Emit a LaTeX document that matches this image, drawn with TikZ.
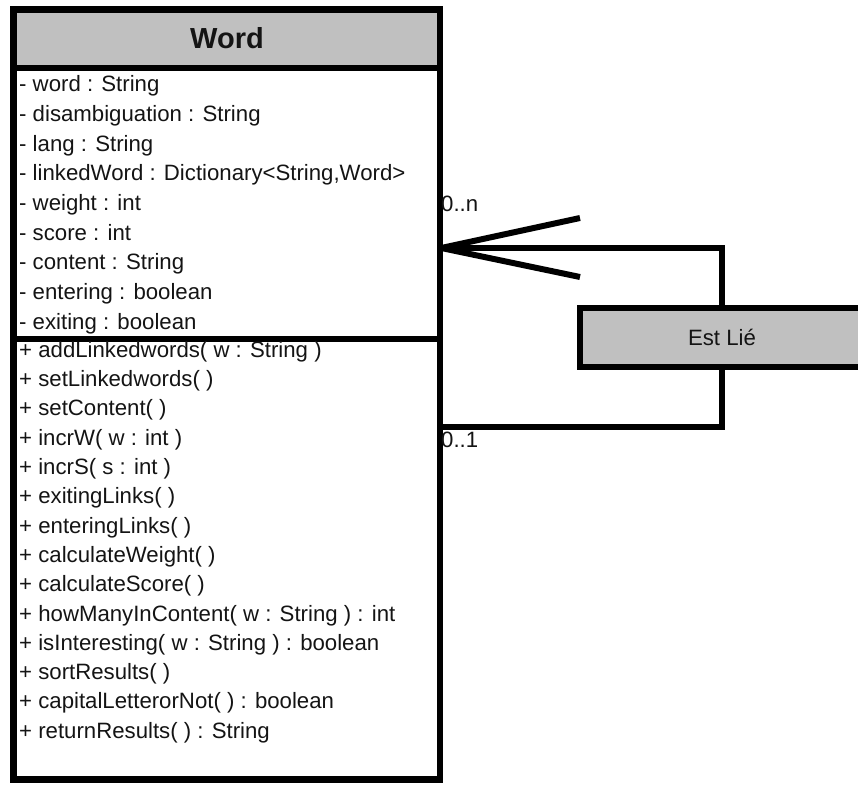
\documentclass[tikz,border=0pt]{standalone}
\usepackage{fontspec}
\setmainfont{Liberation Sans}
\newcommand\rowfont{\fontsize{22.2bp}{26bp}\selectfont}
\newcommand\titlefont{\fontsize{29bp}{34bp}\selectfont\bfseries}
\definecolor{hdrgray}{RGB}{192,192,192}
\definecolor{txt}{RGB}{20,20,20}
\tikzset{
  row/.style={anchor=base west, inner sep=0pt, font=\rowfont, text=txt},
  thick line/.style={line width=6.5bp, draw=black},
  classbox/.style={draw=black, line width=6.5bp, rectangle, inner sep=0pt,
    minimum width=426.5bp, minimum height=770bp},
  relbox/.style={draw=black, line width=6.5bp, fill=hdrgray, rectangle, inner sep=0pt,
    minimum width=284bp, minimum height=59bp, font=\rowfont, text=txt},
}
\begin{document}
\begin{tikzpicture}[x=1bp, y=-1bp]
\useasboundingbox (0,0) rectangle (858,785);
% header fill
\fill[hdrgray] (13.5,9.5) rectangle (440,68.5);
% class box
\node[classbox] (word) at (226.75,394.5) {};
\draw[thick line, line width=6bp] (13.5,68.5) -- (440,68.5);
\draw[thick line, line width=6bp] (13.5,338.5) -- (440,338.5);
\node[anchor=base, inner sep=0pt, font=\titlefont, text=txt] (title) at (227,48.5) {Word};
% attributes
\foreach \t [count=\i from 0] in {
  - word : String,
  - disambiguation : String,
  - lang : String,
  - linkedWord : Dictionary<String{,}Word>,
  - weight : int,
  - score : int,
  - content : String,
  - entering : boolean,
  - exiting : boolean}
  \node[row] (a\i) at (19,{91.6+29.7*\i}) {\t};
% methods
\foreach \t [count=\i from 0] in {
  + addLinkedwords( w : String ),
  + setLinkedwords( ),
  + setContent( ),
  + incrW( w : int ),
  + incrS( s : int ),
  + exitingLinks( ),
  + enteringLinks( ),
  + calculateWeight( ),
  + calculateScore( ),
  + howManyInContent( w : String ) : int,
  + isInteresting( w : String ) : boolean,
  + sortResults( ),
  + capitalLetterorNot( ) : boolean,
  + returnResults( ) : String}
  \node[row] (m\i) at (19,{357.3+29.3*\i}) {\t};
% association class
\node[relbox] (estlie) at (722,337.5) {};
\node[anchor=base, inner sep=0pt, font=\rowfont, text=txt] (estlabel) at (722,345) {Est Lié};
\coordinate (tip) at (word.east |- 0,248);
\coordinate (low) at (word.east |- 0,427);
\coordinate (atip) at ([xshift=-2bp]tip);
\coordinate (armup) at (580,218);
\coordinate (armdn) at (580,277);
\draw[thick line] (estlie.north) |- (tip);
\draw[thick line] (estlie.south) |- (low);
\draw[thick line, line width=6bp, line join=round] (armup) -- (atip) -- (armdn);
% multiplicities
\node[row] (mn) at (441,211.5) {0..n};
\node[row] (m1) at (441,447) {0..1};
\end{tikzpicture}
\end{document}
